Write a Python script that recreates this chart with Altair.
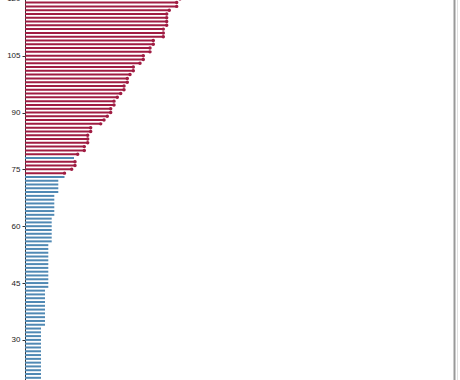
import altair as alt
import pandas as pd

# row positions (y values), top to bottom
rows = list(range(120, 19, -1))

# lengths, same order as rows
values = [
    155.0, 151.7, 151.7, 144.3, 141.7, 141.7, 141.7, 141.7, 138.3, 138.3,  # 120..111
    138.3, 128.3, 128.3, 125.0, 125.0, 118.3, 118.3, 115.0, 108.3, 108.3,  # 110..101
    105.0, 102.3, 102.3, 99.0, 99.0, 95.7, 92.3, 89.0, 89.0, 85.7,         # 100..91
    85.7, 82.3, 79.0, 75.7, 65.7, 65.7, 62.7, 62.7, 62.7, 59.3,            # 90..81
    59.3, 52.7, 49.0, 50.0, 50.0, 46.7, 39.5, 39.5, 33.3, 33.3,            # 80..71
    33.3, 33.3, 29.3, 29.3, 29.3, 29.3, 29.3, 29.3, 26.7, 26.7,            # 70..61
    26.7, 26.7, 26.7, 26.7, 26.7, 23.3, 23.3, 23.3, 23.3, 23.3,            # 60..51
    23.3, 23.3, 23.3, 23.3, 23.3, 23.3, 23.3, 20.0, 20.0, 20.0,            # 50..41
    20.0, 20.0, 20.0, 20.0, 20.0, 20.0, 20.0, 16.0, 16.0, 16.0,            # 40..31
    16.0, 16.0, 16.0, 16.0, 16.0, 16.0, 16.0, 16.0, 16.0, 16.0,            # 30..21
    16.0,                                                                  # 20
]

# rows drawn as lollipops (with a dot) are group "A"
dot_rows = [r for r in range(120, 73, -1) if r != 78]
groups = ["A" if r in dot_rows else "B" for r in rows]

tick_values = [30, 45, 60, 75, 90, 105, 120]

RED = "#a01c42"
BLUE = "#5089b4"

df = pd.DataFrame({"row": rows, "value": values, "group": groups})
df["start"] = 0.0

xs = alt.Scale(domain=[0, 429], nice=False, zero=False)
ys = alt.Scale(domain=[10, 125], range=[415.7, -20.15], nice=False, zero=False)
cs = alt.Scale(domain=["A", "B"], range=[RED, BLUE])

yaxis = alt.Axis(values=tick_values, title=None, grid=False, labelFontSize=8,
                 labelFont="Liberation Sans", labelColor="#222", tickSize=3,
                 tickColor="#333", domainColor="#333", labelPadding=2)

base = alt.Chart(df)

rules = base.mark_rule(strokeWidth=2).encode(
    y=alt.Y("row:Q", scale=ys, axis=yaxis),
    x=alt.X("start:Q", scale=xs, axis=None),
    x2="value:Q",
    color=alt.Color("group:N", scale=cs, legend=None),
)

dots = base.transform_filter(alt.datum.group == "A").mark_circle(size=12, opacity=1).encode(
    y=alt.Y("row:Q", scale=ys),
    x=alt.X("value:Q", scale=xs),
    color=alt.Color("group:N", scale=cs, legend=None),
)

border = alt.Chart(pd.DataFrame({"k": [0]})).mark_rule(color="#999", strokeWidth=2).encode(
    x=alt.value(429.5), y=alt.value(-30), y2=alt.value(430)
)
faint = alt.Chart(pd.DataFrame({"k": [0]})).mark_rule(color="#e0e0e0", strokeWidth=1).encode(
    x=alt.value(432.5), y=alt.value(-30), y2=alt.value(430)
)

chart = alt.layer(rules, dots, border, faint).properties(
    width=429, height=420,
    autosize=alt.AutoSizeParams(type="none"),
    padding={"left": 25, "top": 0, "right": 6, "bottom": 0},
).configure_view(stroke=None)

chart.save("out.html", embed_options={"renderer": "svg", "actions": False})
